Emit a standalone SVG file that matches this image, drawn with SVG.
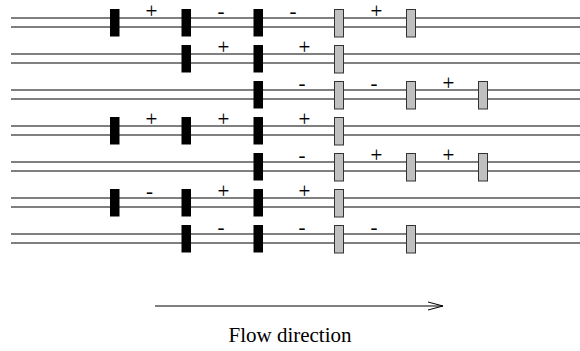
<svg xmlns="http://www.w3.org/2000/svg" width="580" height="351" viewBox="0 0 580 351">
<defs>
<style>
.rail{stroke:#000;stroke-width:1;fill:none}
.blk{fill:#000}
.gry{fill:#c0c0c0;stroke:#333;stroke-width:1}
.sg{font-family:"Liberation Serif","Times New Roman",serif;font-size:21px;fill:#000;stroke:#000;stroke-width:0.05}
.lbl{font-family:"Liberation Serif","Times New Roman",serif;font-size:21px;fill:#000}
.conn{stroke:#000;stroke-width:1;fill:none}
</style>
<g id="track">
<line class="rail" x1="11" y1="0" x2="580" y2="0"/>
<line class="rail" x1="11" y1="9" x2="580" y2="9"/>
</g>
<rect id="bb" class="blk" x="0" y="-9" width="9.5" height="27.5"/>
<rect id="gb" class="gry" x="0" y="-8.5" width="9" height="27.5"/>
</defs>

<g id="row1" transform="translate(0,18)">
<use href="#track"/>
<use href="#bb" x="110"/><use href="#bb" x="181.5"/><use href="#bb" x="253.5"/>
<use href="#gb" x="334.5"/><use href="#gb" x="406.5"/>
<text class="sg" x="145.5" y="0">+</text>
<text class="sg" x="217.5" y="0">-</text>
<text class="sg" x="289.5" y="0">-</text>
<text class="sg" x="370.5" y="0">+</text>
</g>

<g id="row2" transform="translate(0,54)">
<use href="#track"/>
<use href="#bb" x="181.5"/><use href="#bb" x="253.5"/>
<use href="#gb" x="334.5"/>
<text class="sg" x="217.5" y="0">+</text>
<text class="sg" x="298.5" y="0">+</text>
</g>

<g id="row3" transform="translate(0,90)">
<use href="#track"/>
<use href="#bb" x="253.5"/>
<use href="#gb" x="334.5"/><use href="#gb" x="406.5"/><use href="#gb" x="478.5"/>
<text class="sg" x="298.5" y="0">-</text>
<text class="sg" x="370.5" y="0">-</text>
<text class="sg" x="442.5" y="0">+</text>
</g>

<g id="row4" transform="translate(0,126)">
<use href="#track"/>
<use href="#bb" x="110"/><use href="#bb" x="181.5"/><use href="#bb" x="253.5"/>
<use href="#gb" x="334.5"/>
<text class="sg" x="145.5" y="0">+</text>
<text class="sg" x="217.5" y="0">+</text>
<text class="sg" x="298.5" y="0">+</text>
</g>

<g id="row5" transform="translate(0,162)">
<use href="#track"/>
<use href="#bb" x="253.5"/>
<use href="#gb" x="334.5"/><use href="#gb" x="406.5"/><use href="#gb" x="478.5"/>
<text class="sg" x="298.5" y="0">-</text>
<text class="sg" x="370.5" y="0">+</text>
<text class="sg" x="442.5" y="0">+</text>
</g>

<g id="row6" transform="translate(0,198)">
<use href="#track"/>
<use href="#bb" x="110"/><use href="#bb" x="181.5"/><use href="#bb" x="253.5"/>
<use href="#gb" x="334.5"/>
<text class="sg" x="146" y="0">-</text>
<text class="sg" x="217.5" y="0">+</text>
<text class="sg" x="298.5" y="0">+</text>
</g>

<g id="row7" transform="translate(0,234)">
<use href="#track"/>
<use href="#bb" x="181.5"/><use href="#bb" x="253.5"/>
<use href="#gb" x="334.5"/><use href="#gb" x="406.5"/>
<text class="sg" x="217.5" y="0">-</text>
<text class="sg" x="298.5" y="0">-</text>
<text class="sg" x="370.5" y="0">-</text>
</g>

<g id="connectors">
<line class="conn" x1="155" y1="306" x2="443" y2="306"/>
<polyline class="conn" points="428,302 443,306 428,310"/>
</g>

<g id="label">
<text class="lbl" x="290" y="342" text-anchor="middle">Flow direction</text>
</g>
</svg>
